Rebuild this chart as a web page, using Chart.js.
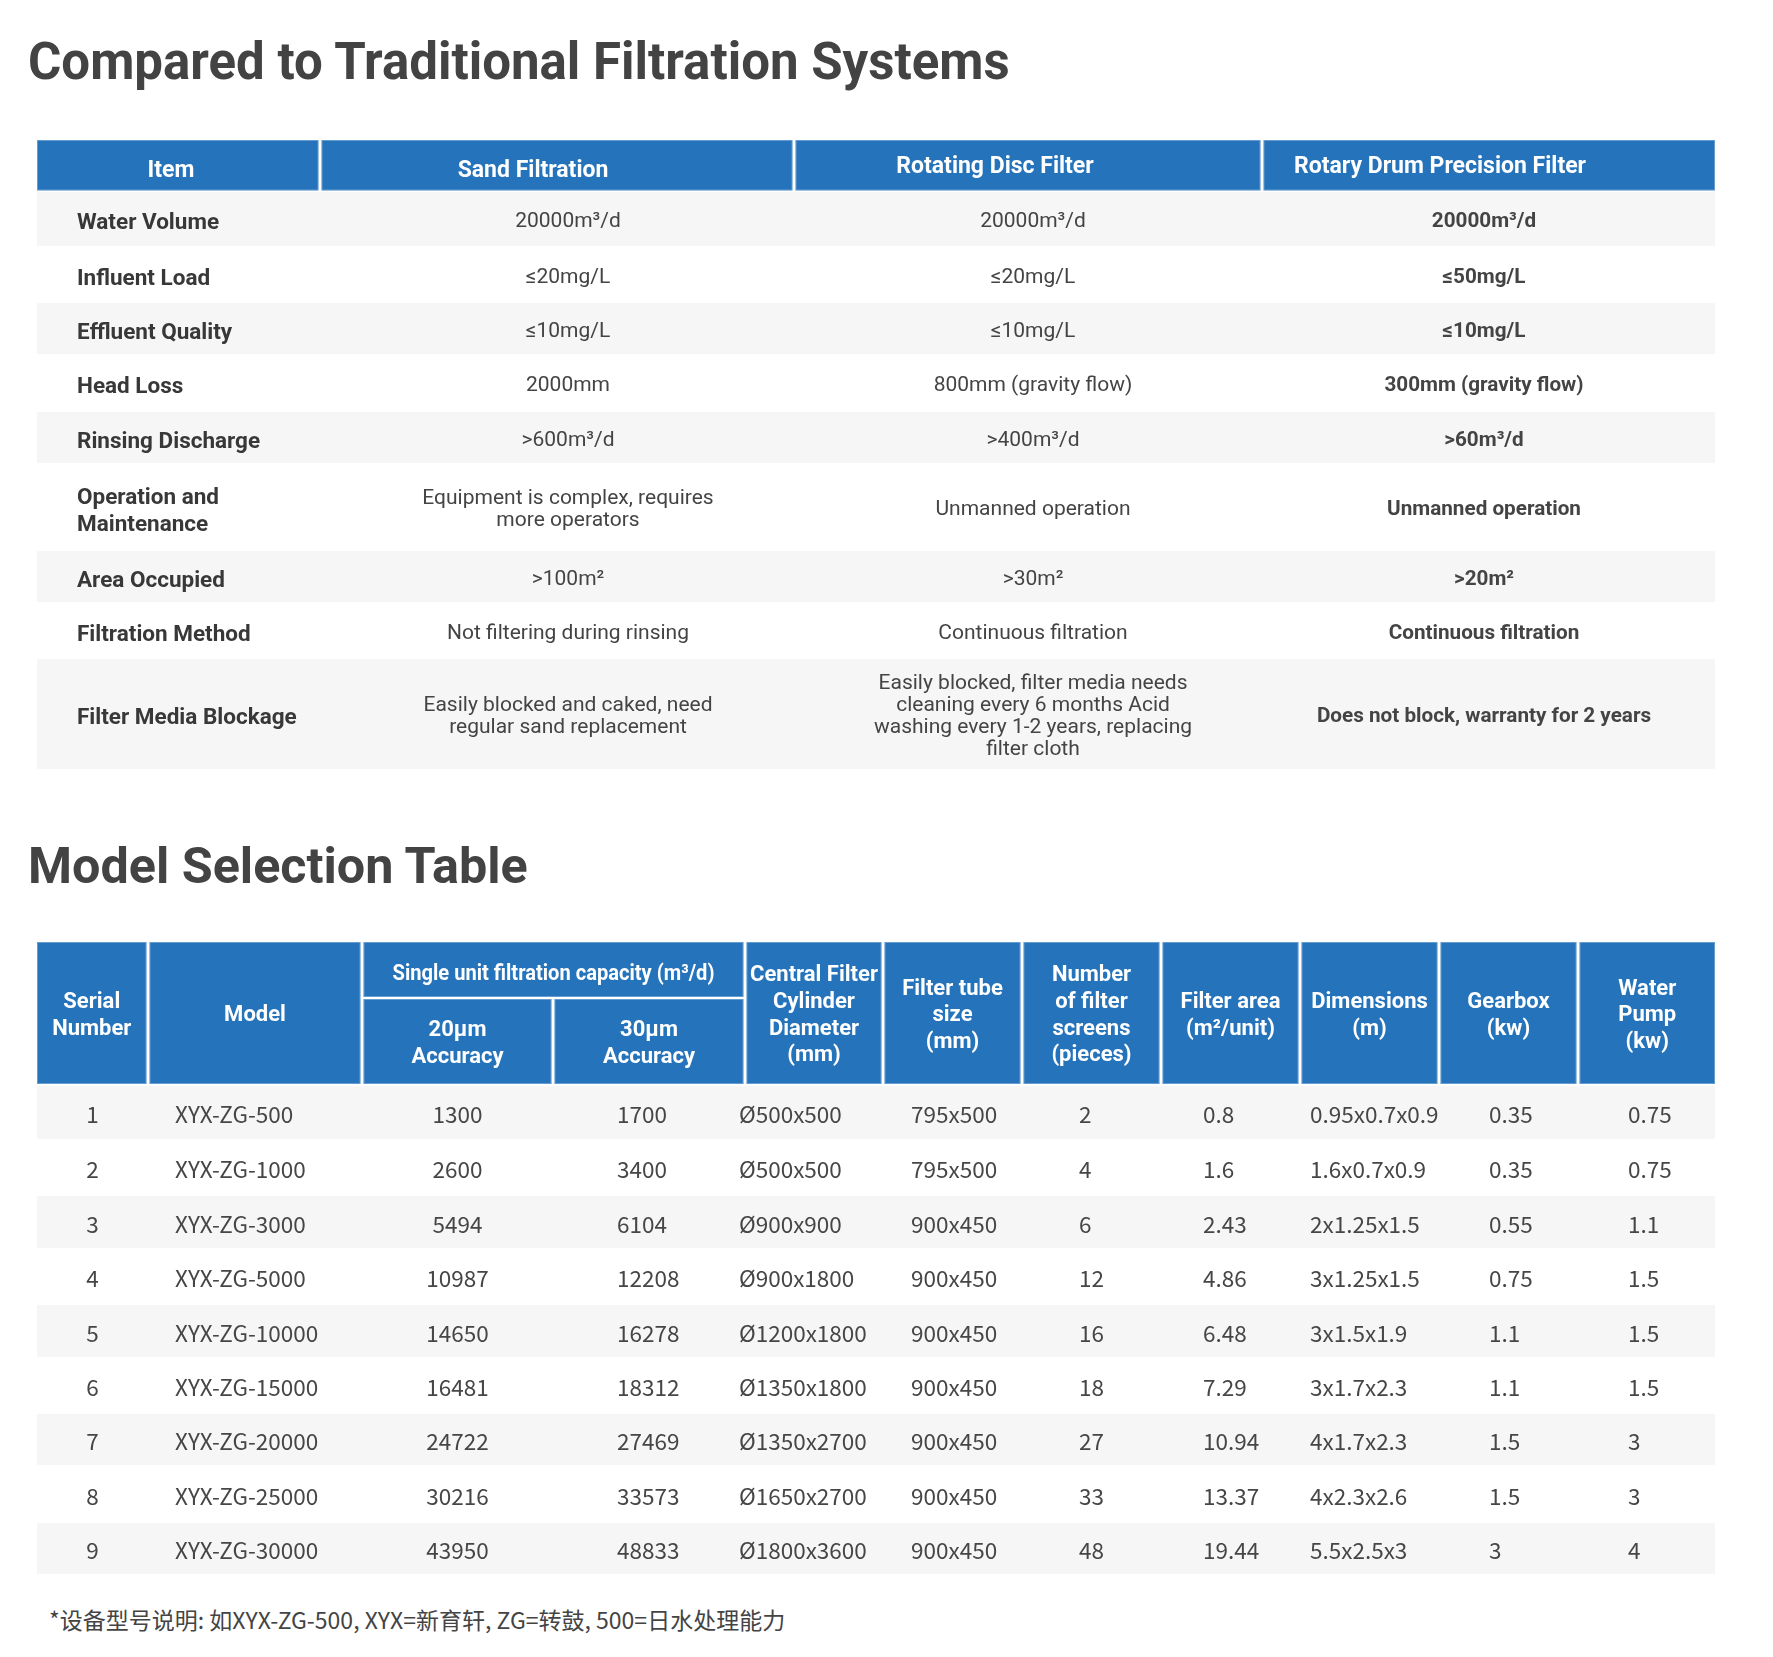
<!DOCTYPE html>
<html>
<head>
<meta charset="utf-8">
<script src="https://cdn.jsdelivr.net/npm/chart.js@4.4.0/dist/chart.umd.min.js"></script>
<style>
  html, body { margin: 0; padding: 0; background: #fff; }
  .page { position: relative; width: 1773px; height: 1657px; overflow: hidden; }
  h2 { position: absolute; left: 28px; margin: 0; font: 700 51px/51px Roboto, sans-serif; color: #434343; white-space: nowrap; }
  canvas { position: absolute; left: 0; }
  .note { position: absolute; left: 49px; top: 1608px; font: 400 23px/23px "Noto Sans CJK SC", sans-serif; color: #444; white-space: nowrap; }
</style>
</head>
<body>
<div class="page">
  <h2 style="top:36px">Compared to Traditional Filtration Systems</h2>
  <canvas id="compareTable" width="1773" height="660" style="top:130px"></canvas>
  <h2 style="top:840px; font-size:50.3px">Model Selection Table</h2>
  <canvas id="modelTable" width="1773" height="660" style="top:930px"></canvas>
  <div class="note">*设备型号说明: 如XYX-ZG-500, XYX=新育轩, ZG=转鼓, 500=日水处理能力</div>
</div>

<script>
//! =============== Data : comparison table =============== //
const compareHeaders = ['Item', 'Sand Filtration', 'Rotating Disc Filter', 'Rotary Drum Precision Filter'];
const compareItems = ['Water Volume', 'Influent Load', 'Effluent Quality', 'Head Loss', 'Rinsing Discharge',
  'Operation and\nMaintenance', 'Area Occupied', 'Filtration Method', 'Filter Media Blockage'];
const sandFiltration = ['20000m³/d', '≤20mg/L', '≤10mg/L', '2000mm', '>600m³/d',
  'Equipment is complex, requires\nmore operators', '>100m²', 'Not filtering during rinsing',
  'Easily blocked and caked, need\nregular sand replacement'];
const rotatingDiscFilter = ['20000m³/d', '≤20mg/L', '≤10mg/L', '800mm (gravity flow)', '>400m³/d',
  'Unmanned operation', '>30m²', 'Continuous filtration',
  'Easily blocked, filter media needs\ncleaning every 6 months Acid\nwashing every 1-2 years, replacing\nfilter cloth'];
const rotaryDrumFilter = ['20000m³/d', '≤50mg/L', '≤10mg/L', '300mm (gravity flow)', '>60m³/d',
  'Unmanned operation', '>20m²', 'Continuous filtration', 'Does not block, warranty for 2 years'];

//! =============== Data : model selection table =============== //
const capacityGroup = 'Single unit filtration capacity (m³/d)';
const modelHeaders = ['Serial\nNumber', 'Model', '20µm\nAccuracy', '30µm\nAccuracy',
  'Central Filter\nCylinder\nDiameter\n(mm)', 'Filter tube\nsize\n(mm)', 'Number\nof filter\nscreens\n(pieces)',
  'Filter area\n(m²/unit)', 'Dimensions\n(m)', 'Gearbox\n(kw)', 'Water\nPump\n(kw)'];
const serialNumbers = [1, 2, 3, 4, 5, 6, 7, 8, 9];
const modelNames = ['XYX-ZG-500', 'XYX-ZG-1000', 'XYX-ZG-3000', 'XYX-ZG-5000', 'XYX-ZG-10000',
  'XYX-ZG-15000', 'XYX-ZG-20000', 'XYX-ZG-25000', 'XYX-ZG-30000'];
const capacity20um = [1300, 2600, 5494, 10987, 14650, 16481, 24722, 30216, 43950];
const capacity30um = [1700, 3400, 6104, 12208, 16278, 18312, 27469, 33573, 48833];
const cylinderSizes = ['Ø500x500', 'Ø500x500', 'Ø900x900', 'Ø900x1800', 'Ø1200x1800',
  'Ø1350x1800', 'Ø1350x2700', 'Ø1650x2700', 'Ø1800x3600'];
const tubeSizes = ['795x500', '795x500', '900x450', '900x450', '900x450', '900x450', '900x450', '900x450', '900x450'];
const screenCounts = [2, 4, 6, 12, 16, 18, 27, 33, 48];
const filterAreas = [0.8, 1.6, 2.43, 4.86, 6.48, 7.29, 10.94, 13.37, 19.44];
const dimensions = ['0.95x0.7x0.9', '1.6x0.7x0.9', '2x1.25x1.5', '3x1.25x1.5', '3x1.5x1.9',
  '3x1.7x2.3', '4x1.7x2.3', '4x2.3x2.6', '5.5x2.5x3'];
const gearboxKw = [0.35, 0.35, 0.55, 0.75, 1.1, 1.1, 1.5, 1.5, 3];
const pumpKw = [0.75, 0.75, 1.1, 1.5, 1.5, 1.5, 3, 3, 4];


//! =============== Layout =============== //
const BLUE = '#2573ba';
const STRIPE = '#f6f6f6';

// comparison table (page pixels)
const cmpCols = [37, 320, 794, 1262, 1715];
const cmpHead = [140, 190.5];
const cmpRows = [192, 246, 303, 354, 412, 463, 551, 602, 659, 769];
const cmpHeadX = [171, 533, 995, 1440];
const cmpHeadBase = [177, 177, 173, 173];
const cmpLabelX = 77;
const cmpValueX = [568, 1033, 1484];

// model table (page pixels)
const mdlCols = [37, 148, 362, 553, 745, 883, 1022, 1161, 1300, 1439, 1578, 1715];
const mdlHead = [942, 997, 999, 1084];
const mdlRows = [1086, 1139, 1196, 1248, 1305, 1357, 1414, 1465, 1523, 1574];
const mdlAlign = ['center', 'left', 'center', 'left', 'left', 'left', 'left', 'left', 'left', 'left', 'left'];
const mdlOffset = [0, 27, 0, 64, -6, 28, 57, 42, 10, 50, 50];


//! =============== Helpers =============== //
function putText(ctx, text, x, y, maxW) {
  if (maxW) ctx.fillText(text, x, y, maxW);
  else ctx.fillText(text, x, y);
}

function multiline(ctx, text, x, centerY, lineH, capH, maxW) {
  const lines = String(text).split('\n');
  const first = centerY - (lines.length - 1) * lineH / 2 + capH / 2;
  lines.forEach((ln, i) => putText(ctx, ln, x, first + i * lineH, maxW));
}

function headCell(ctx, x0, x1, y0, y1) {
  ctx.fillStyle = BLUE;
  ctx.fillRect(x0, y0, x1 - x0, y1 - y0);
  ctx.strokeStyle = 'rgba(255,255,255,0.3)';
  ctx.lineWidth = 1;
  ctx.strokeRect(x0 + 0.5, y0 + 0.5, x1 - x0 - 1, y1 - y0 - 1);
}

function stripes(ctx, px, py, cols, rows) {
  ctx.fillStyle = STRIPE;
  for (let i = 0; i < rows.length - 1; i += 2) {
    ctx.fillRect(px(cols[0]), py(rows[i]), px(cols[cols.length - 1]) - px(cols[0]), py(rows[i + 1]) - py(rows[i]));
  }
}


//! =============== Comparison table =============== //
function drawCompare(ctx, px, py) {
  stripes(ctx, px, py, cmpCols, cmpRows);

  const last = compareHeaders.length - 1;
  compareHeaders.forEach((h, i) => {
    const x0 = px(cmpCols[i]) + (i > 0 ? 1.5 : 0);
    const x1 = px(cmpCols[i + 1]) - (i < last ? 1.5 : 0);
    headCell(ctx, x0, x1, py(cmpHead[0]), py(cmpHead[1]));
    ctx.fillStyle = '#fff';
    ctx.font = '700 23px Roboto';
    ctx.textAlign = 'center';
    ctx.textBaseline = 'alphabetic';
    putText(ctx, h, px(cmpHeadX[i]), py(cmpHeadBase[i]));
  });

  const columns = [sandFiltration, rotatingDiscFilter, rotaryDrumFilter];
  compareItems.forEach((item, r) => {
    const cy = (py(cmpRows[r]) + py(cmpRows[r + 1])) / 2;
    ctx.fillStyle = '#383838';
    ctx.font = '700 22.5px Roboto';
    ctx.textAlign = 'left';
    multiline(ctx, item, px(cmpLabelX), cy + 2, 27, 16);

    columns.forEach((col, j) => {
      ctx.fillStyle = '#444';
      ctx.font = j === 2 ? '700 20.7px Roboto' : '400 21px Roboto';
      ctx.textAlign = 'center';
      multiline(ctx, col[r], px(cmpValueX[j]), cy, 22, 16);
    });
  });
}


//! =============== Model selection table =============== //
function drawModels(ctx, px, py) {
  stripes(ctx, px, py, mdlCols, mdlRows);

  const last = modelHeaders.length - 1;
  const cellX = i => [px(mdlCols[i]) + (i > 0 ? 1.5 : 0), px(mdlCols[i + 1]) - (i < last ? 1.5 : 0)];

  ctx.textBaseline = 'alphabetic';
  ctx.textAlign = 'center';
  ctx.font = '700 22px Roboto';

  // grouped capacity header
  headCell(ctx, cellX(2)[0], cellX(3)[1], py(mdlHead[0]), py(mdlHead[1]));
  ctx.fillStyle = '#fff';
  multiline(ctx, capacityGroup, (px(mdlCols[2]) + px(mdlCols[4])) / 2,
    (py(mdlHead[0]) + py(mdlHead[1])) / 2, 26.7, 20, 322);

  modelHeaders.forEach((h, i) => {
    const [x0, x1] = cellX(i);
    const sub = (i === 2 || i === 3);
    const y0 = py(sub ? mdlHead[2] : mdlHead[0]);
    const y1 = py(mdlHead[3]);
    headCell(ctx, x0, x1, y0, y1);
    ctx.fillStyle = '#fff';
    multiline(ctx, h, (x0 + x1) / 2, (y0 + y1) / 2, 26.7, 16.5, x1 - x0 - 6);
  });

  const columns = [serialNumbers, modelNames, capacity20um, capacity30um, cylinderSizes,
    tubeSizes, screenCounts, filterAreas, dimensions, gearboxKw, pumpKw];
  ctx.font = '400 22.5px "Noto Sans CJK SC"';
  ctx.fillStyle = '#464646';
  serialNumbers.forEach((_, r) => {
    const cy = (py(mdlRows[r]) + py(mdlRows[r + 1])) / 2;
    columns.forEach((col, c) => {
      ctx.textAlign = mdlAlign[c];
      const x = mdlAlign[c] === 'center'
        ? (px(mdlCols[c]) + px(mdlCols[c + 1])) / 2 + mdlOffset[c]
        : px(mdlCols[c]) + mdlOffset[c];
      putText(ctx, String(col[r]), x, cy + 10.5);
    });
  });
}


//! =============== Chart.JS =============== //
function tablePlugin(id, draw) {
  return {
    id: id,
    afterDraw(chart) {
      const xs = chart.scales.x, ys = chart.scales.y;
      chart.ctx.save();
      draw(chart.ctx, v => xs.getPixelForValue(v), v => ys.getPixelForValue(v));
      chart.ctx.restore();
    }
  };
}

function makeTable(canvasId, yMin, yMax, draw) {
  return new Chart(document.getElementById(canvasId), {
    type: 'scatter',
    data: { datasets: [] },
    options: {
      responsive: false,
      animation: false,
      devicePixelRatio: 1,
      events: [],
      layout: { padding: 0 },
      plugins: { legend: { display: false }, tooltip: { enabled: false } },
      scales: {
        x: { type: 'linear', min: 0, max: 1773, display: false },
        y: { type: 'linear', min: yMin, max: yMax, reverse: true, display: false }
      }
    },
    plugins: [tablePlugin(canvasId + 'Cells', draw)]
  });
}

function build() {
  makeTable('compareTable', 130, 790, drawCompare);
  makeTable('modelTable', 930, 1590, drawModels);
}

Promise.all([
  document.fonts.load('700 22px Roboto'),
  document.fonts.load('400 20px Roboto'),
  document.fonts.load('400 24px "Noto Sans CJK SC"')
]).then(build, build);
</script>
</body>
</html>
